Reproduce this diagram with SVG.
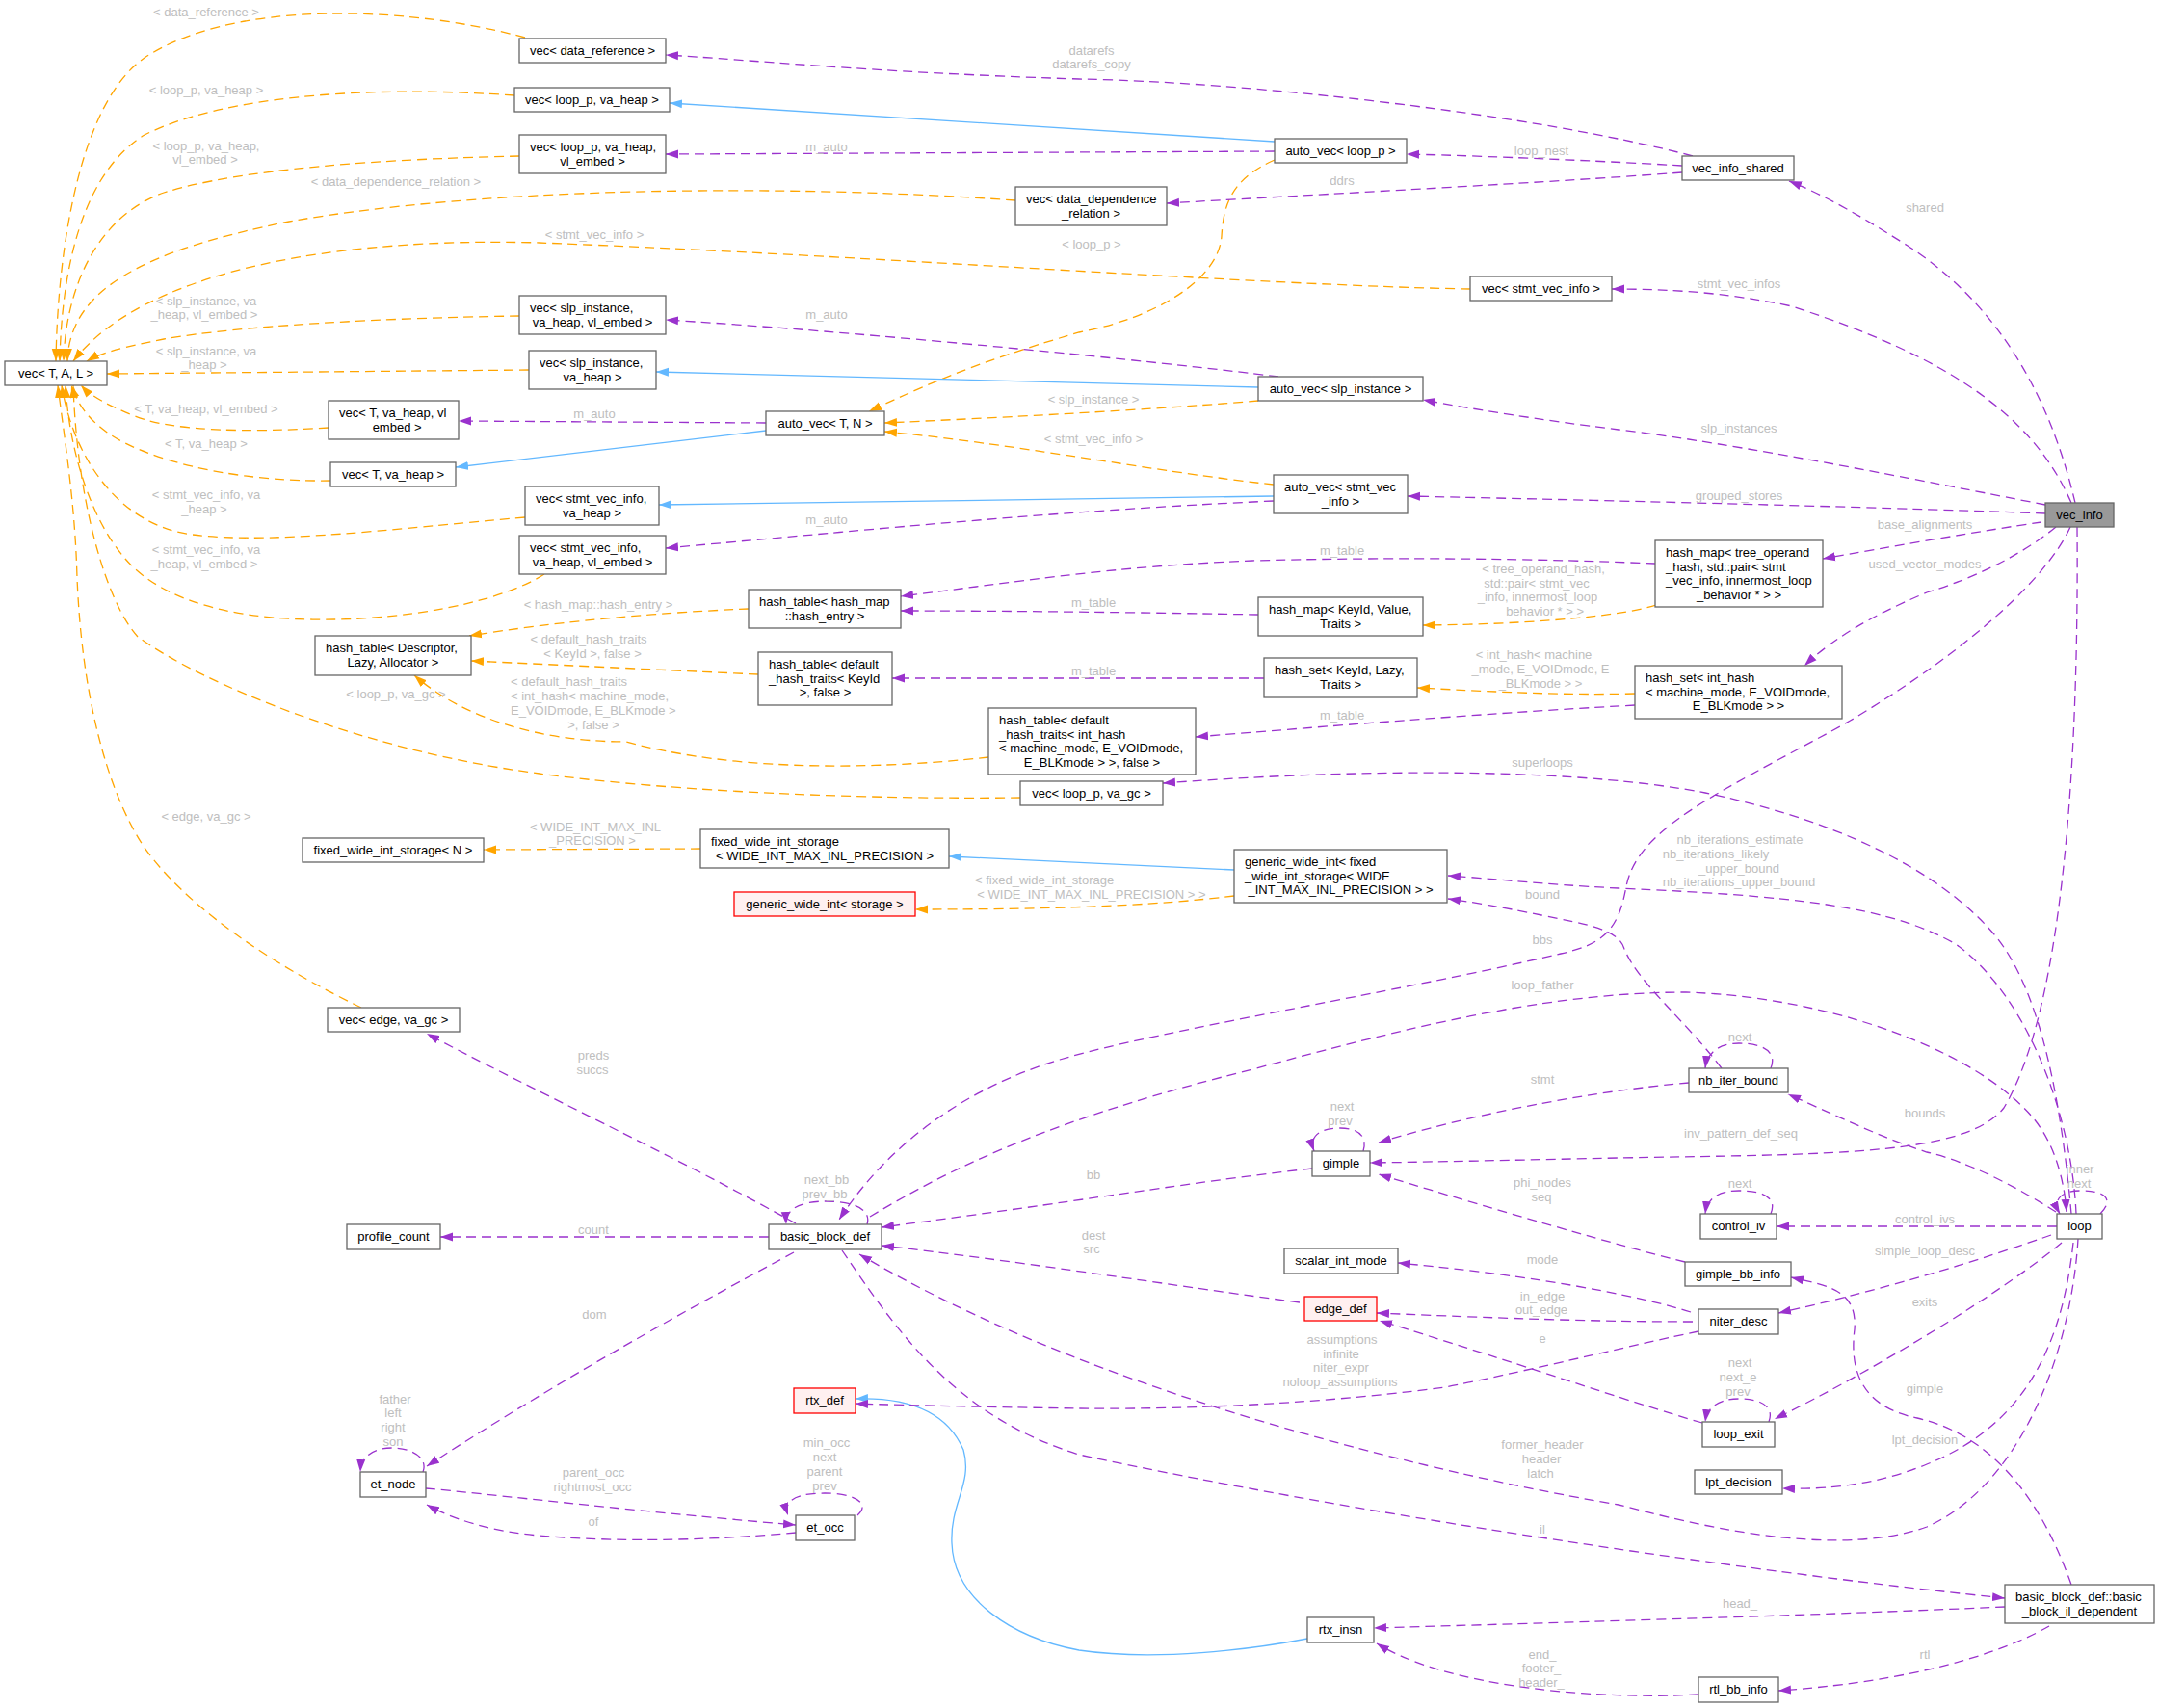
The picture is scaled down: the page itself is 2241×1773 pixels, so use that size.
<svg xmlns="http://www.w3.org/2000/svg" width="2241" height="1773" viewBox="0 0 2241 1773">
<defs>
<style>
text{font-family:"Liberation Sans",Arial,Helvetica,sans-serif;font-size:13px}
.n rect{fill:#fff;stroke:#666;stroke-width:1.3}
.n text{fill:#000}
.n.red rect{fill:#fff0f0;stroke:#f00}
.n.root rect{fill:#999;stroke:#666}
.m{text-anchor:middle}
.lbl text{fill:#bebebe;text-anchor:middle}
.lbl text.s{text-anchor:start}
.e path{fill:none;stroke-width:1.3}
.e .p{stroke:#9a32cd;stroke-dasharray:10,6;marker-end:url(#ap)}
.e .o{stroke:#ffa500;stroke-dasharray:10,6;marker-end:url(#ao)}
.e .b{stroke:#63b8ff;marker-end:url(#ab)}
</style>
<marker id="ap" viewBox="0 0 13 10" refX="13" refY="5" markerWidth="13" markerHeight="10" markerUnits="userSpaceOnUse" orient="auto"><path d="M0,0.5L13,5L0,9.5z" fill="#9a32cd"/></marker>
<marker id="ao" viewBox="0 0 13 10" refX="13" refY="5" markerWidth="13" markerHeight="10" markerUnits="userSpaceOnUse" orient="auto"><path d="M0,0.5L13,5L0,9.5z" fill="#ffa500"/></marker>
<marker id="ab" viewBox="0 0 13 10" refX="13" refY="5" markerWidth="13" markerHeight="10" markerUnits="userSpaceOnUse" orient="auto"><path d="M0,0.5L13,5L0,9.5z" fill="#63b8ff"/></marker>
</defs>
<rect width="2241" height="1773" fill="#fff"/>
<g id="edges" class="e">
<path class="o" d="M545,39 C420,5 240,0 150,60 C85,105 60,250 58,375"/>
<path class="o" d="M534,99 C380,88 230,100 150,140 C85,180 64,280 62,375"/>
<path class="o" d="M539,162 C400,165 250,175 170,200 C100,225 68,300 66,375"/>
<path class="o" d="M1054,208 C800,190 500,195 300,230 C150,260 72,300 70,375"/>
<path class="o" d="M1526,300 C1300,296 900,265 560,252 C350,246 150,280 76,375"/>
<path class="o" d="M539,328 C400,330 250,338 170,352 C130,360 105,366 90,375"/>
<path class="o" d="M549,384 L111,388"/>
<path class="o" d="M341,444 C260,449 180,448 140,432 C115,422 95,412 84,400"/>
<path class="o" d="M343,499 C260,500 180,485 130,460 C100,445 82,425 74,400"/>
<path class="o" d="M545,537 C400,550 280,565 200,555 C120,545 75,470 64,400"/>
<path class="o" d="M565,596 C520,625 420,645 321,643 C220,641 160,615 130,580 C95,540 72,470 68,400"/>
<path class="o" d="M1059,828 C900,830 700,822 560,803 C380,780 210,710 143,661 C110,625 80,520 76,400"/>
<path class="o" d="M375,1046 C300,1010 200,950 150,880 C110,820 85,720 80,600 C78,520 66,450 60,400"/>
<path class="o" d="M777,632 C680,636 580,645 487,660"/>
<path class="o" d="M787,700 L489,686"/>
<path class="o" d="M1026,786 C900,800 760,800 650,770 C560,770 480,745 430,701"/>
<path class="o" d="M727,881 L502,882"/>
<path class="o" d="M1281,930 C1200,940 1100,944 950,944"/>
<path class="o" d="M1323,166 C1280,185 1270,210 1268,245 C1265,290 1200,330 1120,345 C1000,380 950,405 902,427"/>
<path class="o" d="M1306,416 C1200,425 1050,433 918,439"/>
<path class="o" d="M1322,503 C1200,490 1050,460 918,448"/>
<path class="o" d="M1719,628 C1690,638 1600,648 1477,649"/>
<path class="o" d="M1697,720 C1620,722 1550,718 1471,714"/>
<path class="b" d="M1323,147 L695,107"/>
<path class="b" d="M1306,402 L681,386"/>
<path class="b" d="M795,447 L473,485"/>
<path class="b" d="M1322,515 L684,524"/>
<path class="b" d="M1281,903 L985,889"/>
<path class="b" d="M1357,1701 C1300,1712 1200,1725 1120,1713 C1050,1700 990,1660 988,1602 C986,1560 1010,1540 1000,1505 C985,1470 950,1450 888,1452"/>
<path class="p" d="M1757,162 C1600,120 1300,85 1120,82 C900,75 780,62 691,57"/>
<path class="p" d="M1746,172 C1680,168 1550,162 1460,160"/>
<path class="p" d="M1746,179 C1600,190 1400,200 1211,211"/>
<path class="p" d="M1323,157 L691,160"/>
<path class="p" d="M1327,391 C1200,375 900,345 691,332"/>
<path class="p" d="M795,439 L476,437"/>
<path class="p" d="M1322,520 C1100,530 900,550 691,569"/>
<path class="p" d="M2154,522 C2130,420 2080,320 1980,255 C1940,230 1900,205 1857,188"/>
<path class="p" d="M2150,522 C2110,430 2020,370 1860,318 C1790,303 1730,300 1673,300"/>
<path class="p" d="M2123,524 C2000,500 1800,460 1680,446 C1600,436 1530,425 1477,415"/>
<path class="p" d="M2123,533 C2000,528 1700,520 1461,515"/>
<path class="p" d="M2119,542 C2050,552 1960,568 1892,580"/>
<path class="p" d="M2134,547 C2100,575 2050,600 2000,615 C1940,640 1900,665 1873,691"/>
<path class="p" d="M2156,547 C2158,800 2140,1050 2080,1150 C2040,1200 1900,1198 1680,1202 C1580,1204 1500,1206 1422,1207"/>
<path class="p" d="M1718,585 C1600,580 1450,578 1300,582 C1150,588 1050,605 935,619"/>
<path class="p" d="M1306,638 C1200,636 1050,634 935,634"/>
<path class="p" d="M1312,704 L926,704"/>
<path class="p" d="M1697,732 C1550,740 1400,752 1241,765"/>
<path class="p" d="M2150,1260 C2140,1150 2120,1030 2070,970 C2010,900 1900,850 1770,823 C1650,800 1450,795 1207,813"/>
<path class="p" d="M2155,1260 C2150,1150 2100,1030 2030,980 C1960,940 1860,930 1680,922 C1600,918 1550,912 1503,909"/>
<path class="p" d="M1787,1109 C1750,1060 1700,1020 1686,985 C1680,965 1650,960 1600,950 C1570,944 1540,938 1503,933"/>
<path class="p" d="M1753,1124 C1680,1130 1550,1150 1431,1186"/>
<path class="p" d="M1838,1109 C1845,1092 1830,1083 1805,1083 C1785,1083 1772,1092 1770,1109"/>
<path class="p" d="M1415,1195 C1420,1178 1408,1171 1391,1171 C1372,1171 1358,1178 1364,1195"/>
<path class="p" d="M1362,1213 C1250,1225 1100,1250 915,1274"/>
<path class="p" d="M1349,1352 C1200,1332 1050,1308 915,1293"/>
<path class="p" d="M1757,1372 C1650,1372 1550,1368 1429,1363"/>
<path class="p" d="M1767,1477 C1700,1458 1560,1410 1432,1371"/>
<path class="p" d="M1755,1362 C1700,1345 1600,1325 1451,1311"/>
<path class="p" d="M1749,1310 C1680,1293 1550,1255 1431,1219"/>
<path class="p" d="M1763,1382 C1700,1395 1600,1420 1500,1440 C1350,1460 1200,1463 1120,1462 C1050,1461 950,1459 888,1457"/>
<path class="p" d="M2157,1286 C2150,1400 2100,1540 2000,1585 C1900,1620 1750,1580 1680,1562 C1520,1535 1150,1455 892,1302"/>
<path class="p" d="M874,1298 C930,1380 990,1470 1120,1510 C1400,1570 1800,1630 2081,1659"/>
<path class="p" d="M824,1300 C750,1340 600,1420 443,1522"/>
<path class="p" d="M798,1284 L457,1284"/>
<path class="p" d="M900,1271 C905,1255 885,1247 858,1247 C830,1247 815,1255 816,1271"/>
<path class="p" d="M826,1270 C700,1200 550,1130 443,1073"/>
<path class="p" d="M439,1528 C445,1512 425,1503 407,1503 C390,1503 375,1510 374,1528"/>
<path class="p" d="M442,1545 C500,1550 650,1568 826,1583"/>
<path class="p" d="M826,1591 C750,1598 650,1602 560,1594 C510,1590 470,1577 443,1562"/>
<path class="p" d="M890,1573 C905,1560 885,1550 856,1550 C830,1550 812,1556 818,1573"/>
<path class="p" d="M2081,1668 C1900,1676 1700,1682 1426,1690"/>
<path class="p" d="M2127,1688 C2080,1715 1990,1745 1846,1755"/>
<path class="p" d="M2150,1645 C2120,1560 2070,1490 1990,1472 C1930,1460 1920,1420 1925,1380 C1928,1340 1900,1335 1859,1326"/>
<path class="p" d="M1763,1759 C1650,1765 1500,1750 1429,1706"/>
<path class="p" d="M2135,1273 L1844,1273"/>
<path class="p" d="M1838,1260 C1845,1243 1830,1236 1805,1236 C1785,1236 1772,1243 1770,1260"/>
<path class="p" d="M2129,1282 C2050,1310 1950,1340 1846,1363"/>
<path class="p" d="M2140,1290 C2080,1340 1950,1420 1842,1473"/>
<path class="p" d="M1836,1476 C1842,1460 1828,1452 1805,1452 C1785,1452 1772,1460 1770,1476"/>
<path class="p" d="M2152,1290 C2140,1400 2100,1480 2000,1520 C1940,1545 1880,1546 1850,1545"/>
<path class="p" d="M2180,1260 C2195,1245 2185,1236 2160,1236 C2140,1236 2130,1245 2138,1260"/>
<path class="p" d="M2149,547 C2120,610 2020,690 1912,753 C1780,825 1700,860 1688,920 C1680,965 1665,980 1620,990 C1450,1030 1200,1070 1100,1100 C1000,1130 920,1190 871,1266"/>
<path class="p" d="M903,1263 C1000,1205 1100,1160 1300,1110 C1450,1070 1600,1030 1750,1030 C1900,1035 2050,1090 2110,1160 C2135,1190 2143,1230 2145,1258"/>
<path class="p" d="M2134,1258 C2090,1230 2040,1205 2000,1196 C1950,1180 1900,1155 1856,1136"/>
</g>
<g id="edge-labels" class="lbl">
<text x="214" y="16.5">&lt; data_reference &gt;</text>
<text x="214" y="97.5">&lt; loop_p, va_heap &gt;</text>
<text x="214" y="155.5">&lt; loop_p, va_heap,</text>
<text x="213" y="169.5">vl_embed &gt;</text>
<text x="411" y="192.5">&lt; data_dependence_relation &gt;</text>
<text x="617" y="248">&lt; stmt_vec_info &gt;</text>
<text x="214" y="316.5">&lt; slp_instance, va</text>
<text x="212" y="331">_heap, vl_embed &gt;</text>
<text x="214" y="368.5">&lt; slp_instance, va</text>
<text x="212" y="383">_heap &gt;</text>
<text x="214" y="428.5">&lt; T, va_heap, vl_embed &gt;</text>
<text x="214" y="464.5">&lt; T, va_heap &gt;</text>
<text x="214" y="517.5">&lt; stmt_vec_info, va</text>
<text x="212" y="532.5">_heap &gt;</text>
<text x="214" y="574.5">&lt; stmt_vec_info, va</text>
<text x="212" y="589.5">_heap, vl_embed &gt;</text>
<text x="621" y="631.5">&lt; hash_map::hash_entry &gt;</text>
<text x="611" y="668">&lt; default_hash_traits</text>
<text x="615" y="683">&lt; KeyId &gt;, false &gt;</text>
<text class="s" x="530" y="712">&lt; default_hash_traits</text>
<text class="s" x="530" y="727">&lt; int_hash&lt; machine_mode,</text>
<text class="s" x="530" y="741.5">E_VOIDmode, E_BLKmode &gt;</text>
<text x="616" y="756.5">&gt;, false &gt;</text>
<text x="411" y="725">&lt; loop_p, va_gc &gt;</text>
<text x="214" y="851.5">&lt; edge, va_gc &gt;</text>
<text x="618" y="862.5">&lt; WIDE_INT_MAX_INL</text>
<text x="615" y="877">_PRECISION &gt;</text>
<text class="s" x="1012" y="917.5">&lt; fixed_wide_int_storage</text>
<text x="1133" y="932.5">&lt; WIDE_INT_MAX_INL_PRECISION &gt; &gt;</text>
<text x="1133" y="257.5">&lt; loop_p &gt;</text>
<text x="1135" y="419">&lt; slp_instance &gt;</text>
<text x="1135" y="459.5">&lt; stmt_vec_info &gt;</text>
<text x="1602" y="595">&lt; tree_operand_hash,</text>
<text x="1595" y="609.5">std::pair&lt; stmt_vec</text>
<text x="1596" y="624">_info, innermost_loop</text>
<text x="1600" y="639">_behavior * &gt; &gt;</text>
<text x="1592" y="684">&lt; int_hash&lt; machine</text>
<text x="1599" y="698.5">_mode, E_VOIDmode, E</text>
<text x="1599" y="713.5">_BLKmode &gt; &gt;</text>
<text x="1133" y="56.5">datarefs</text>
<text x="1133" y="71">datarefs_copy</text>
<text x="1600" y="160.5">loop_nest</text>
<text x="1393" y="192">ddrs</text>
<text x="858" y="156.5">m_auto</text>
<text x="858" y="331">m_auto</text>
<text x="617" y="433.5">m_auto</text>
<text x="858" y="544">m_auto</text>
<text x="1998" y="220">shared</text>
<text x="1805" y="299">stmt_vec_infos</text>
<text x="1805" y="448.5">slp_instances</text>
<text x="1805" y="519">grouped_stores</text>
<text x="1998" y="549">base_alignments</text>
<text x="1998" y="590">used_vector_modes</text>
<text x="1393" y="576">m_table</text>
<text x="1135" y="629.5">m_table</text>
<text x="1135" y="700.5">m_table</text>
<text x="1393" y="747">m_table</text>
<text x="1601" y="796">superloops</text>
<text x="1806" y="876">nb_iterations_estimate</text>
<text x="1781" y="890.5">nb_iterations_likely</text>
<text x="1805" y="905.5">_upper_bound</text>
<text x="1805" y="920">nb_iterations_upper_bound</text>
<text x="1601" y="932.5">bound</text>
<text x="1601" y="980">bbs</text>
<text x="1601" y="1026.5">loop_father</text>
<text x="1806" y="1081">next</text>
<text x="1601" y="1125">stmt</text>
<text x="1393" y="1153">next</text>
<text x="1391" y="1167.5">prev</text>
<text x="1998" y="1160">bounds</text>
<text x="1807" y="1181">inv_pattern_def_seq</text>
<text x="616" y="1100">preds</text>
<text x="615" y="1115">succs</text>
<text x="1135" y="1224">bb</text>
<text x="858" y="1229">next_bb</text>
<text x="856" y="1243.5">prev_bb</text>
<text x="1601" y="1232">phi_nodes</text>
<text x="1600" y="1247">seq</text>
<text x="2159" y="1218">inner</text>
<text x="2158" y="1233">next</text>
<text x="1806" y="1233">next</text>
<text x="1998" y="1269.5">control_ivs</text>
<text x="616" y="1280.5">count</text>
<text x="1135" y="1287">dest</text>
<text x="1133" y="1301">src</text>
<text x="1998" y="1303">simple_loop_desc</text>
<text x="1601" y="1312">mode</text>
<text x="1601" y="1349.5">in_edge</text>
<text x="1600" y="1364">out_edge</text>
<text x="1998" y="1356">exits</text>
<text x="617" y="1369">dom</text>
<text x="1601" y="1393.5">e</text>
<text x="1393" y="1395">assumptions</text>
<text x="1392" y="1409.5">infinite</text>
<text x="1392" y="1424">niter_expr</text>
<text x="1391" y="1438.7">noloop_assumptions</text>
<text x="1806" y="1419.4">next</text>
<text x="1804" y="1434.3">next_e</text>
<text x="1804" y="1449.3">prev</text>
<text x="1998" y="1445.7">gimple</text>
<text x="410" y="1456.5">father</text>
<text x="408" y="1471">left</text>
<text x="408" y="1486">right</text>
<text x="408" y="1501">son</text>
<text x="1998" y="1499">lpt_decision</text>
<text x="858" y="1502">min_occ</text>
<text x="856" y="1517">next</text>
<text x="856" y="1531.5">parent</text>
<text x="856" y="1546.5">prev</text>
<text x="1601" y="1504">former_header</text>
<text x="1600" y="1518.5">header</text>
<text x="1599" y="1533.5">latch</text>
<text x="616" y="1533.4">parent_occ</text>
<text x="615" y="1548">rightmost_occ</text>
<text x="616" y="1584">of</text>
<text x="1601" y="1592">il</text>
<text x="1806" y="1669">head_</text>
<text x="1998" y="1721.5">rtl</text>
<text x="1601" y="1721.5">end_</text>
<text x="1600" y="1736">footer_</text>
<text x="1600" y="1751">header_</text>
</g>
<g id="vec_T_A_L" class="n"><rect x="5" y="375" width="106" height="25"/><text class="m" x="58" y="392">vec&lt; T, A, L &gt;</text></g>
<g id="vec_data_reference" class="n"><rect x="539" y="40" width="152" height="25"/><text class="m" x="615" y="57">vec&lt; data_reference &gt;</text></g>
<g id="vec_loop_p_va_heap" class="n"><rect x="534" y="91" width="161" height="25"/><text class="m" x="614.5" y="108">vec&lt; loop_p, va_heap &gt;</text></g>
<g id="vec_loop_p_va_heap_vl_embed" class="n"><rect x="539" y="140" width="152" height="40"/><text x="550" y="157">vec&lt; loop_p, va_heap,</text><text class="m" x="615" y="171.7">vl_embed &gt;</text></g>
<g id="vec_data_dependence_relation" class="n"><rect x="1054" y="194" width="157" height="40"/><text x="1065" y="211">vec&lt; data_dependence</text><text class="m" x="1132.5" y="225.7">_relation &gt;</text></g>
<g id="vec_slp_instance_va_heap_vl_embed" class="n"><rect x="539" y="307" width="152" height="40"/><text x="550" y="324">vec&lt; slp_instance,</text><text class="m" x="615" y="338.7">va_heap, vl_embed &gt;</text></g>
<g id="vec_slp_instance_va_heap" class="n"><rect x="549" y="364" width="132" height="40"/><text x="560" y="381">vec&lt; slp_instance,</text><text class="m" x="615" y="395.7">va_heap &gt;</text></g>
<g id="vec_T_va_heap_vl_embed" class="n"><rect x="341" y="416" width="135" height="40"/><text x="352" y="433">vec&lt; T, va_heap, vl</text><text class="m" x="408.5" y="447.7">_embed &gt;</text></g>
<g id="vec_T_va_heap" class="n"><rect x="343" y="480" width="130" height="25"/><text class="m" x="408" y="497">vec&lt; T, va_heap &gt;</text></g>
<g id="vec_stmt_vec_info_va_heap" class="n"><rect x="545" y="505" width="139" height="40"/><text x="556" y="522">vec&lt; stmt_vec_info,</text><text class="m" x="614.5" y="536.7">va_heap &gt;</text></g>
<g id="vec_stmt_vec_info_va_heap_vl_embed" class="n"><rect x="539" y="556" width="152" height="40"/><text x="550" y="573">vec&lt; stmt_vec_info,</text><text class="m" x="615" y="587.7">va_heap, vl_embed &gt;</text></g>
<g id="auto_vec_T_N" class="n"><rect x="795" y="427" width="123" height="25"/><text class="m" x="856.5" y="444">auto_vec&lt; T, N &gt;</text></g>
<g id="auto_vec_loop_p" class="n"><rect x="1323" y="144" width="137" height="25"/><text class="m" x="1391.5" y="161">auto_vec&lt; loop_p &gt;</text></g>
<g id="vec_stmt_vec_info" class="n"><rect x="1526" y="287" width="147" height="25"/><text class="m" x="1599.5" y="304">vec&lt; stmt_vec_info &gt;</text></g>
<g id="auto_vec_slp_instance" class="n"><rect x="1306" y="391" width="171" height="25"/><text class="m" x="1391.5" y="408">auto_vec&lt; slp_instance &gt;</text></g>
<g id="auto_vec_stmt_vec_info" class="n"><rect x="1322" y="493" width="139" height="40"/><text x="1333" y="510">auto_vec&lt; stmt_vec</text><text class="m" x="1391.5" y="524.7">_info &gt;</text></g>
<g id="vec_info_shared" class="n"><rect x="1746" y="162" width="116" height="25"/><text class="m" x="1804" y="179">vec_info_shared</text></g>
<g id="vec_info" class="n root"><rect x="2123" y="522" width="71" height="25"/><text class="m" x="2158.5" y="539">vec_info</text></g>
<g id="hash_map_tree_operand" class="n"><rect x="1718" y="561" width="174" height="69"/><text x="1729" y="578">hash_map&lt; tree_operand</text><text x="1729" y="592.7">_hash, std::pair&lt; stmt</text><text x="1729" y="607.4">_vec_info, innermost_loop</text><text class="m" x="1805" y="622.1">_behavior * &gt; &gt;</text></g>
<g id="hash_table_Descriptor" class="n"><rect x="327" y="660" width="162" height="41"/><text x="338" y="677">hash_table&lt; Descriptor,</text><text class="m" x="408" y="691.7">Lazy, Allocator &gt;</text></g>
<g id="fixed_wide_int_storage_N" class="n"><rect x="314" y="870" width="188" height="25"/><text class="m" x="408" y="887">fixed_wide_int_storage&lt; N &gt;</text></g>
<g id="vec_edge_va_gc" class="n"><rect x="340" y="1046" width="137" height="25"/><text class="m" x="408.5" y="1063">vec&lt; edge, va_gc &gt;</text></g>
<g id="hash_table_hash_entry" class="n"><rect x="777" y="612" width="158" height="40"/><text x="788" y="629">hash_table&lt; hash_map</text><text class="m" x="856" y="643.7">::hash_entry &gt;</text></g>
<g id="hash_table_KeyId" class="n"><rect x="787" y="677" width="139" height="55"/><text x="798" y="694">hash_table&lt; default</text><text x="798" y="708.7">_hash_traits&lt; KeyId</text><text class="m" x="856.5" y="723.4">&gt;, false &gt;</text></g>
<g id="hash_table_int_hash" class="n"><rect x="1026" y="735" width="215" height="69"/><text x="1037" y="752">hash_table&lt; default</text><text x="1037" y="766.7">_hash_traits&lt; int_hash</text><text x="1037" y="781.4">&lt; machine_mode, E_VOIDmode,</text><text class="m" x="1133.5" y="796.1">E_BLKmode &gt; &gt;, false &gt;</text></g>
<g id="vec_loop_p_va_gc" class="n"><rect x="1059" y="811" width="148" height="25"/><text class="m" x="1133" y="828">vec&lt; loop_p, va_gc &gt;</text></g>
<g id="fixed_wide_int_storage_WIDE" class="n"><rect x="727" y="861" width="258" height="40"/><text x="738" y="878">fixed_wide_int_storage</text><text class="m" x="856" y="892.7">&lt; WIDE_INT_MAX_INL_PRECISION &gt;</text></g>
<g id="generic_wide_int_storage" class="n red"><rect x="762" y="926" width="188" height="25"/><text class="m" x="856" y="943">generic_wide_int&lt; storage &gt;</text></g>
<g id="hash_map_KeyId" class="n"><rect x="1306" y="620" width="171" height="40"/><text x="1317" y="637">hash_map&lt; KeyId, Value,</text><text class="m" x="1391.5" y="651.7">Traits &gt;</text></g>
<g id="hash_set_KeyId" class="n"><rect x="1312" y="683" width="159" height="41"/><text x="1323" y="700">hash_set&lt; KeyId, Lazy,</text><text class="m" x="1391.5" y="714.7">Traits &gt;</text></g>
<g id="generic_wide_int_fixed" class="n"><rect x="1281" y="882" width="221" height="55"/><text x="1292" y="899">generic_wide_int&lt; fixed</text><text x="1292" y="913.7">_wide_int_storage&lt; WIDE</text><text class="m" x="1391.5" y="928.4">_INT_MAX_INL_PRECISION &gt; &gt;</text></g>
<g id="gimple" class="n"><rect x="1362" y="1195" width="60" height="26"/><text class="m" x="1392" y="1212">gimple</text></g>
<g id="hash_set_int_hash" class="n"><rect x="1697" y="691" width="215" height="55"/><text x="1708" y="708">hash_set&lt; int_hash</text><text x="1708" y="722.7">&lt; machine_mode, E_VOIDmode,</text><text class="m" x="1804.5" y="737.4">E_BLKmode &gt; &gt;</text></g>
<g id="nb_iter_bound" class="n"><rect x="1753" y="1109" width="103" height="25"/><text class="m" x="1804.5" y="1126">nb_iter_bound</text></g>
<g id="profile_count" class="n"><rect x="360" y="1271" width="97" height="26"/><text class="m" x="408.5" y="1288">profile_count</text></g>
<g id="et_node" class="n"><rect x="374" y="1528" width="68" height="26"/><text class="m" x="408" y="1545">et_node</text></g>
<g id="basic_block_def" class="n"><rect x="798" y="1271" width="117" height="26"/><text class="m" x="856.5" y="1288">basic_block_def</text></g>
<g id="rtx_def" class="n red"><rect x="824" y="1441" width="64" height="26"/><text class="m" x="856" y="1458">rtx_def</text></g>
<g id="et_occ" class="n"><rect x="826" y="1573" width="61" height="26"/><text class="m" x="856.5" y="1590">et_occ</text></g>
<g id="scalar_int_mode" class="n"><rect x="1333" y="1296" width="118" height="26"/><text class="m" x="1392" y="1313">scalar_int_mode</text></g>
<g id="edge_def" class="n red"><rect x="1354" y="1346" width="75" height="25"/><text class="m" x="1391.5" y="1363">edge_def</text></g>
<g id="rtx_insn" class="n"><rect x="1357" y="1679" width="69" height="26"/><text class="m" x="1391.5" y="1696">rtx_insn</text></g>
<g id="control_iv" class="n"><rect x="1765" y="1260" width="79" height="26"/><text class="m" x="1804.5" y="1277">control_iv</text></g>
<g id="loop" class="n"><rect x="2135" y="1260" width="47" height="26"/><text class="m" x="2158.5" y="1277">loop</text></g>
<g id="gimple_bb_info" class="n"><rect x="1749" y="1310" width="110" height="25"/><text class="m" x="1804" y="1327">gimple_bb_info</text></g>
<g id="niter_desc" class="n"><rect x="1763" y="1359" width="83" height="26"/><text class="m" x="1804.5" y="1376">niter_desc</text></g>
<g id="loop_exit" class="n"><rect x="1767" y="1476" width="75" height="26"/><text class="m" x="1804.5" y="1493">loop_exit</text></g>
<g id="lpt_decision" class="n"><rect x="1759" y="1526" width="91" height="25"/><text class="m" x="1804.5" y="1543">lpt_decision</text></g>
<g id="basic_block_il_dependent" class="n"><rect x="2081" y="1645" width="155" height="40"/><text x="2092" y="1662">basic_block_def::basic</text><text class="m" x="2158.5" y="1676.7">_block_il_dependent</text></g>
<g id="rtl_bb_info" class="n"><rect x="1763" y="1741" width="83" height="26"/><text class="m" x="1804.5" y="1758">rtl_bb_info</text></g>
</svg>
